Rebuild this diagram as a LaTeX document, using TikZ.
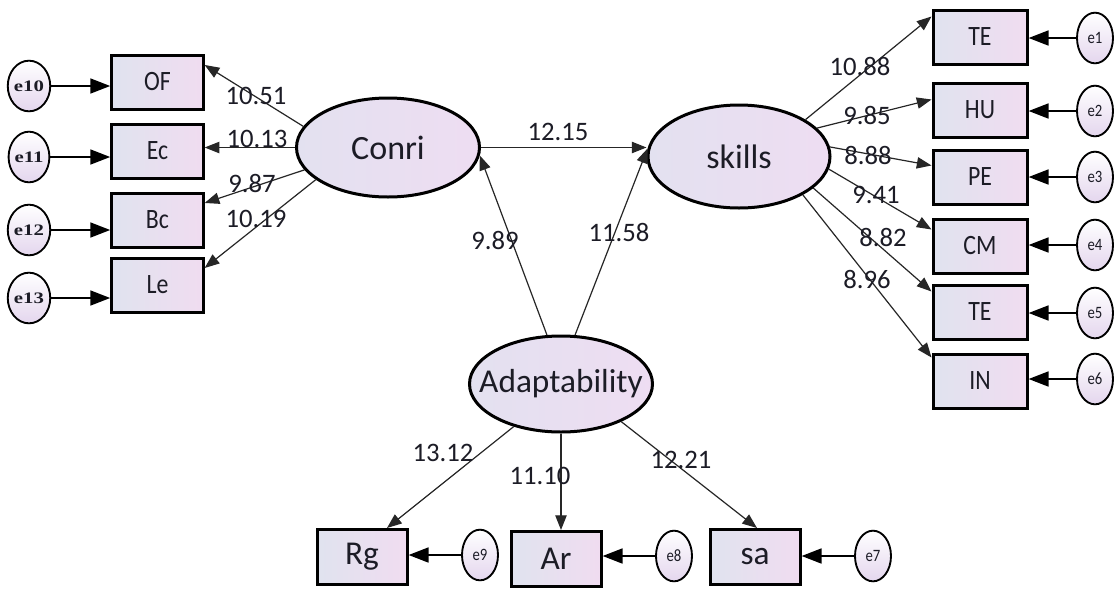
\documentclass[tikz,border=0pt]{standalone}
\usepackage{fontspec}
\setmainfont{Carlito}
\newfontfamily\narrowfont[FakeStretch=0.85]{Carlito}
\newfontfamily\eserif[FakeStretch=1.3]{Liberation Serif}
\usetikzlibrary{shapes.geometric,arrows.meta,calc}
\definecolor{boxL}{HTML}{E0E3EF}
\definecolor{boxR}{HTML}{F0DCF0}
\definecolor{latL}{HTML}{E3E1F0}
\definecolor{latR}{HTML}{EEDDF2}
\definecolor{errC}{HTML}{E4D6EE}
\definecolor{txt}{HTML}{1C1C26}
\begin{document}
\begin{tikzpicture}[x=0.75pt,y=-0.75pt,
  num/.style={font=\fontsize{20}{24}\selectfont, text=txt, inner sep=0pt},
  latent/.style={ellipse, draw=black, line width=2.25pt, left color=latL, right color=latR, inner sep=0pt,
    font=\fontsize{25.5}{30}\selectfont, text=txt},
  obs/.style={rectangle, draw=black, line width=2.25pt, left color=boxL, right color=boxR, inner sep=0pt,
    minimum width=68.5pt, minimum height=40.5pt, font=\narrowfont\fontsize{21}{25}\selectfont, text=txt},
  obsb/.style={obs, minimum width=67.5pt, minimum height=41.25pt, font=\fontsize{25}{30}\selectfont},
  err/.style={ellipse, draw=black, line width=1.4pt, top color=white, bottom color=errC, inner sep=0pt,
    minimum width=27pt, minimum height=38pt, text=txt},
  errl/.style={err, font=\eserif\bfseries\fontsize{12}{14}\selectfont},
  errr/.style={err, font=\narrowfont\fontsize{13}{15}\selectfont},
  load/.style={-{Triangle[length=11pt,width=8.5pt]}, line width=0.9pt, draw=black!85},
  earr/.style={-{Triangle[length=15pt,width=11pt]}, line width=2pt}
]
\useasboundingbox (0,0) rectangle (1115,590);
\fill[white] (0,0) rectangle (1115,590);

% latent variables
\node[latent, minimum width=137.25pt, minimum height=74.25pt] (conri) at (388,147.5) {\makebox[0pt]{Conri}};
\node[latent, minimum width=136.5pt, minimum height=77.25pt] (skills) at (739,156.5) {\makebox[0pt]{skills}};
\node[latent, minimum width=137.25pt, minimum height=72pt, font=\fontsize{25}{30}\selectfont] (adapt) at (561,384) {\makebox[0pt]{Adaptability}};

% left indicators
\node[obs] (of) at (157.5,82) {OF};
\node[obs] (ec) at (157.5,151) {Ec};
\node[obs] (bc) at (157.5,220) {Bc};
\node[obs] (le) at (157.5,285) {Le};
\node[errl] (e10) at (29,86) {e10};
\node[errl] (e11) at (29,157) {e11};
\node[errl] (e12) at (29,230) {e12};
\node[errl] (e13) at (29,298) {e13};

% right indicators
\node[obs, minimum width=70.5pt] (te1) at (980,37) {TE};
\node[obs, minimum width=70.5pt] (hu) at (980,110) {HU};
\node[obs, minimum width=70.5pt] (pe) at (980,177) {PE};
\node[obs, minimum width=70.5pt] (cm) at (980,246) {CM};
\node[obs, minimum width=70.5pt] (te2) at (980,312) {TE};
\node[obs, minimum width=70.5pt] (in) at (980,381) {IN};
\node[errr] (e1) at (1095,38) {e1};
\node[errr] (e2) at (1095,111) {e2};
\node[errr] (e3) at (1095,177) {e3};
\node[errr] (e4) at (1095,245) {e4};
\node[errr] (e5) at (1095,313) {e5};
\node[errr] (e6) at (1095,379) {e6};

% bottom indicators
\node[obsb] (rg) at (362,557) {Rg};
\node[obsb] (ar) at (556,559) {Ar};
\node[obsb] (sa) at (755,557) {sa};
\node[errr] (e9) at (480,555) {e9};
\node[errr] (e8) at (674,556) {e8};
\node[errr] (e7) at (873,556) {e7};

% error arrows
\draw[earr] (e10.east) -- (e10 -| of.west);
\draw[earr] (e11.east) -- (e11 -| ec.west);
\draw[earr] (e12.east) -- (e12 -| bc.west);
\draw[earr] (e13.east) -- (e13 -| le.west);
\draw[earr] (e1.west) -- (e1 -| te1.east);
\draw[earr] (e2.west) -- (e2 -| hu.east);
\draw[earr] (e3.west) -- (e3 -| pe.east);
\draw[earr] (e4.west) -- (e4 -| cm.east);
\draw[earr] (e5.west) -- (e5 -| te2.east);
\draw[earr] (e6.west) -- (e6 -| in.east);
\draw[earr] (e9.west) -- (e9 -| rg.east);
\draw[earr] (e8.west) -- (e8 -| ar.east);
\draw[earr] (e7.west) -- (e7 -| sa.east);

% loadings Conri
\draw[load] (conri.166) -- ([yshift=-8.6pt]of.north east);
\draw[load] (conri.west) -- (conri.west -| ec.east);
\draw[load] (conri.195) -- ([yshift=-8.6pt]bc.north east);
\draw[load] (conri.204) -- ([yshift=-8.6pt]le.north east);

% structural paths
\draw[load] (conri.east) -- (conri.east -| skills.west);
\draw[load] (adapt.106) -- (conri.355);
\draw[load] (adapt.74) -- (skills.175);

% loadings skills
\draw[load] (skills.29) -- ([yshift=-6pt]te1.north west);
\draw[load] (skills.20) -- ([yshift=-13.5pt]hu.north west);
\draw[load] (skills.6) -- ([yshift=-12.75pt]pe.north west);
\draw[load] (skills.352) -- ([yshift=-9pt]cm.north west);
\draw[load] (skills.337) -- ([yshift=-6pt]te2.north west);
\draw[load] (skills.329) -- ([yshift=-3.75pt]in.north west);

% loadings Adaptability
\draw[load] (adapt.222) -- ([xshift=18.75pt]rg.north);
\draw[load] (adapt.south) -- (adapt.south |- ar.north);
\draw[load] (adapt.328) -- ([xshift=1.5pt]sa.north);

% coefficient labels
\node[num] (l1) at (256,96) {10.51};
\node[num] (l2) at (257,139) {10.13};
\node[num] (l3) at (252,183) {9.87};
\node[num] (l4) at (256,219) {10.19};
\node[num] (l5) at (558,132) {12.15};
\node[num] (l6) at (495,240) {9.89};
\node[num] (l7) at (619,232) {11.58};
\node[num] (l8) at (860,66) {10.88};
\node[num] (l9) at (867,115) {9.85};
\node[num] (l10) at (868,155) {8.88};
\node[num] (l11) at (876,195) {9.41};
\node[num] (l12) at (883,237) {8.82};
\node[num] (l13) at (867,279) {8.96};
\node[num] (l14) at (443,453) {13.12};
\node[num] (l15) at (540,476) {11.10};
\node[num] (l16) at (681,460) {12.21};
\end{tikzpicture}
\end{document}
